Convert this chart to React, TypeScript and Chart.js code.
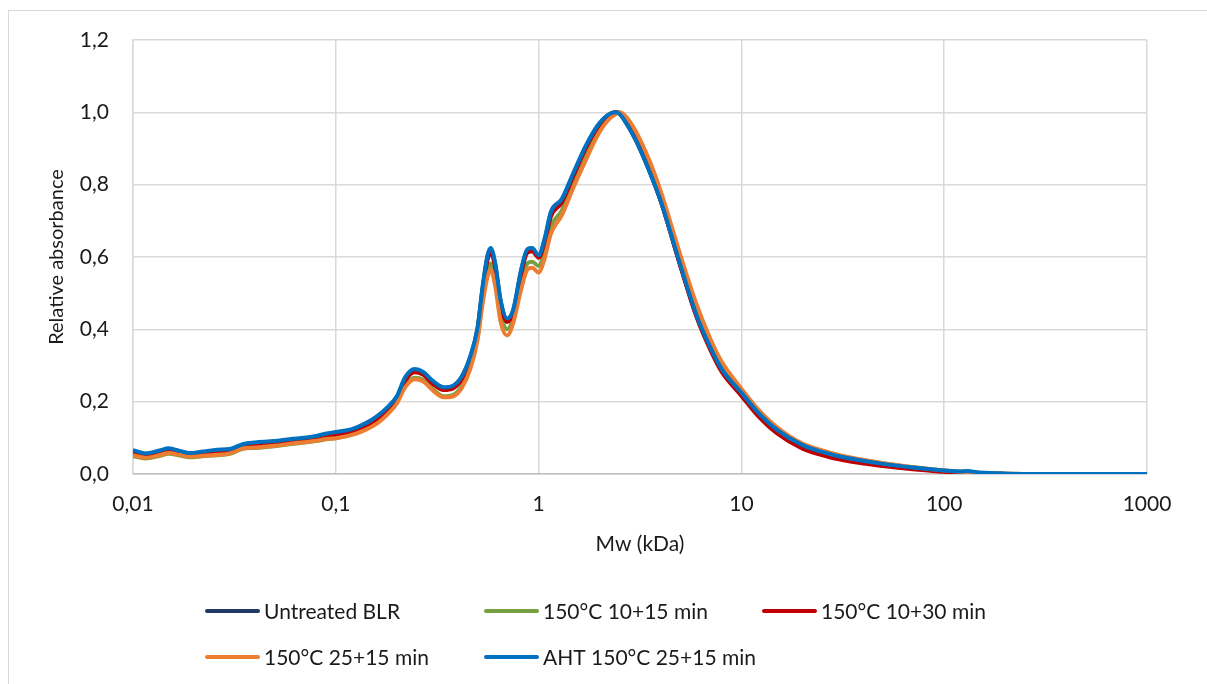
import React, { useEffect, useRef } from "react";
import { Chart, registerables } from "chart.js";

Chart.register(...registerables);

// Molecular weight (kDa) sample positions
const MW = [0.01, 0.0115, 0.0135, 0.015, 0.017, 0.019, 0.022, 0.026, 0.03, 0.035, 0.04, 0.05, 0.06, 0.07, 0.08, 0.09, 0.1, 0.12, 0.14, 0.16, 0.18, 0.2, 0.22, 0.245, 0.27, 0.3, 0.34, 0.38, 0.42, 0.46, 0.5, 0.53, 0.56, 0.58, 0.61, 0.65, 0.7, 0.75, 0.82, 0.88, 0.93, 1.0, 1.07, 1.15, 1.3, 1.48, 1.7, 1.95, 2.2, 2.4, 2.5, 2.65, 3.0, 3.5, 4.0, 5.0, 6.0, 7.0, 8.0, 10, 12, 15, 20, 27, 35, 50, 70, 100, 120, 130, 150, 200, 300, 1000];

const UNTREATED_BLR = [0.064, 0.055, 0.063, 0.069, 0.062, 0.056, 0.060, 0.065, 0.067, 0.081, 0.085, 0.089, 0.095, 0.098, 0.103, 0.110, 0.114, 0.122, 0.138, 0.158, 0.183, 0.213, 0.265, 0.287, 0.279, 0.255, 0.238, 0.243, 0.270, 0.322, 0.402, 0.516, 0.601, 0.621, 0.581, 0.477, 0.427, 0.452, 0.561, 0.618, 0.621, 0.602, 0.646, 0.721, 0.757, 0.828, 0.902, 0.961, 0.992, 1.000, 0.997, 0.979, 0.926, 0.841, 0.755, 0.576, 0.438, 0.350, 0.287, 0.222, 0.169, 0.119, 0.077, 0.053, 0.039, 0.026, 0.016, 0.009, 0.006, 0.006, 0.003, 0.001, 0.000, 0.000];

const T150_10_15 = [0.049, 0.043, 0.050, 0.056, 0.051, 0.046, 0.049, 0.052, 0.056, 0.070, 0.072, 0.077, 0.083, 0.087, 0.091, 0.096, 0.099, 0.109, 0.124, 0.143, 0.168, 0.198, 0.245, 0.266, 0.260, 0.236, 0.215, 0.219, 0.245, 0.296, 0.378, 0.482, 0.563, 0.582, 0.540, 0.440, 0.400, 0.432, 0.528, 0.582, 0.587, 0.575, 0.615, 0.685, 0.728, 0.805, 0.880, 0.947, 0.985, 0.998, 1.000, 0.988, 0.940, 0.858, 0.770, 0.595, 0.458, 0.368, 0.303, 0.232, 0.178, 0.127, 0.083, 0.059, 0.044, 0.030, 0.019, 0.010, 0.006, 0.005, 0.003, 0.001, 0.000, 0.000];

const T150_10_30 = [0.056, 0.049, 0.056, 0.062, 0.057, 0.052, 0.055, 0.058, 0.061, 0.075, 0.078, 0.083, 0.089, 0.093, 0.098, 0.104, 0.108, 0.117, 0.132, 0.151, 0.176, 0.207, 0.258, 0.281, 0.274, 0.250, 0.232, 0.237, 0.264, 0.316, 0.396, 0.508, 0.592, 0.613, 0.573, 0.470, 0.420, 0.446, 0.553, 0.612, 0.616, 0.598, 0.640, 0.712, 0.750, 0.822, 0.898, 0.958, 0.991, 1.000, 0.997, 0.980, 0.928, 0.842, 0.755, 0.575, 0.435, 0.345, 0.282, 0.216, 0.162, 0.112, 0.070, 0.047, 0.034, 0.022, 0.013, 0.006, 0.003, 0.002, 0.001, 0.000, 0.000, 0.000];

const T150_25_15 = [0.052, 0.045, 0.052, 0.058, 0.053, 0.048, 0.050, 0.053, 0.057, 0.071, 0.073, 0.078, 0.084, 0.088, 0.092, 0.097, 0.099, 0.108, 0.122, 0.140, 0.165, 0.195, 0.240, 0.262, 0.256, 0.232, 0.212, 0.215, 0.240, 0.290, 0.370, 0.472, 0.546, 0.565, 0.522, 0.420, 0.383, 0.418, 0.510, 0.565, 0.570, 0.557, 0.595, 0.665, 0.715, 0.790, 0.865, 0.935, 0.978, 0.995, 1.000, 0.993, 0.950, 0.870, 0.782, 0.606, 0.470, 0.376, 0.310, 0.236, 0.181, 0.129, 0.084, 0.060, 0.045, 0.030, 0.019, 0.010, 0.006, 0.005, 0.003, 0.001, 0.000, 0.000];

const AHT_150_25_15 = [0.066, 0.057, 0.065, 0.071, 0.064, 0.058, 0.062, 0.067, 0.069, 0.083, 0.087, 0.091, 0.097, 0.100, 0.105, 0.112, 0.116, 0.124, 0.140, 0.160, 0.185, 0.215, 0.268, 0.290, 0.282, 0.258, 0.240, 0.245, 0.272, 0.325, 0.405, 0.520, 0.605, 0.625, 0.585, 0.480, 0.430, 0.455, 0.565, 0.622, 0.625, 0.605, 0.650, 0.725, 0.760, 0.831, 0.905, 0.963, 0.993, 1.000, 0.996, 0.978, 0.925, 0.840, 0.755, 0.578, 0.440, 0.352, 0.290, 0.225, 0.172, 0.122, 0.080, 0.056, 0.042, 0.028, 0.018, 0.010, 0.007, 0.008, 0.004, 0.001, 0.000, 0.000];

const SERIES_LABELS = ["Untreated BLR", "150°C 10+15 min", "150°C 10+30 min", "150°C 25+15 min", "AHT 150°C 25+15 min"];
const SERIES_VALUES = [UNTREATED_BLR, T150_10_15, T150_10_30, T150_25_15, AHT_150_25_15];
const SERIES_COLORS = ["#203864", "#77A043", "#C00000", "#ED7D31", "#0070C0"];

const X_TICKS = [0.01, 0.1, 1, 10, 100, 1000];
const X_TICK_LABELS = ["0,01", "0,1", "1", "10", "100", "1000"];

const FONT = "Lato";
const TEXT_COLOR = "#1a1a1a";

const legendPlugin = {
  id: "excelLegend",
  afterDraw(chart: any) {
    const ctx = chart.ctx;
    const colX = [207, 486, 764];
    const rowY = [611, 657];
    ctx.save();
    ctx.font = `21px ${FONT}`;
    ctx.textBaseline = "middle";
    ctx.textAlign = "left";
    chart.data.datasets.forEach((ds: any, i: number) => {
      const x = colX[i % 3];
      const y = rowY[Math.floor(i / 3)];
      ctx.strokeStyle = ds.borderColor;
      ctx.lineWidth = 4;
      ctx.lineCap = "round";
      ctx.beginPath();
      ctx.moveTo(x, y);
      ctx.lineTo(x + 51, y);
      ctx.stroke();
      ctx.fillStyle = TEXT_COLOR;
      ctx.fillText(ds.label, x + 57, y + 1);
    });
    ctx.restore();
  },
};

export default function App() {
  const ref = useRef<HTMLCanvasElement>(null);

  useEffect(() => {
    if (!ref.current) return;
    const datasets = SERIES_LABELS.map((label, i) => ({
      label,
      data: MW.map((x, j) => ({ x, y: SERIES_VALUES[i][j] })),
      borderColor: SERIES_COLORS[i],
      backgroundColor: SERIES_COLORS[i],
      borderWidth: 4,
      pointRadius: 0,
      showLine: true,
      fill: false,
      cubicInterpolationMode: "monotone" as const,
      order: SERIES_LABELS.length - 1 - i,
    }));

    const chart = new Chart(ref.current, {
      type: "scatter",
      data: { datasets },
      plugins: [legendPlugin],
      options: {
        animation: false,
        responsive: false,
        events: [],
        layout: { padding: { left: 41, top: 40, right: 60, bottom: 123 } },
        plugins: {
          legend: { display: false },
          tooltip: { enabled: false },
        },
        scales: {
          x: {
            type: "logarithmic",
            min: 0.01,
            max: 1000,
            afterBuildTicks: (scale: any) => {
              scale.ticks = X_TICKS.map((v) => ({ value: v }));
            },
            afterFit: (scale: any) => {
              scale.height = 87;
            },
            ticks: {
              autoSkip: false,
              maxRotation: 0,
              padding: 18,
              color: TEXT_COLOR,
              font: { family: FONT, size: 21 },
              callback: (_v: any, index: number) => X_TICK_LABELS[index],
            },
            grid: { color: "#d9d9d9", lineWidth: 1.5, drawTicks: false },
            border: { color: "#bfbfbf", width: 1.5 },
            title: {
              display: true,
              text: "Mw (kDa)",
              color: TEXT_COLOR,
              font: { family: FONT, size: 21 },
            },
          },
          y: {
            min: 0,
            max: 1.2,
            afterFit: (scale: any) => {
              scale.width = 92;
            },
            ticks: {
              stepSize: 0.2,
              padding: 24,
              color: TEXT_COLOR,
              font: { family: FONT, size: 21 },
              callback: (v: any) => Number(v).toFixed(1).replace(".", ","),
            },
            grid: { color: "#d9d9d9", lineWidth: 1.5, drawTicks: false },
            border: { color: "#d9d9d9", width: 1.5 },
            title: {
              display: true,
              text: "Relative absorbance",
              color: TEXT_COLOR,
              font: { family: FONT, size: 20 },
            },
          },
        },
      },
    });
    return () => chart.destroy();
  }, []);

  return (
    <div style={{ position: "fixed", left: 0, top: 0, width: 1207, height: 684, overflow: "hidden", background: "#fff" }}>
      <div style={{ position: "absolute", left: 8, top: 10, width: 1400, height: 1000, border: "1.5px solid #d9d9d9" }} />
      <canvas ref={ref} width={1207} height={684} style={{ position: "absolute", left: 0, top: 0, display: "block" }} />
    </div>
  );
}
